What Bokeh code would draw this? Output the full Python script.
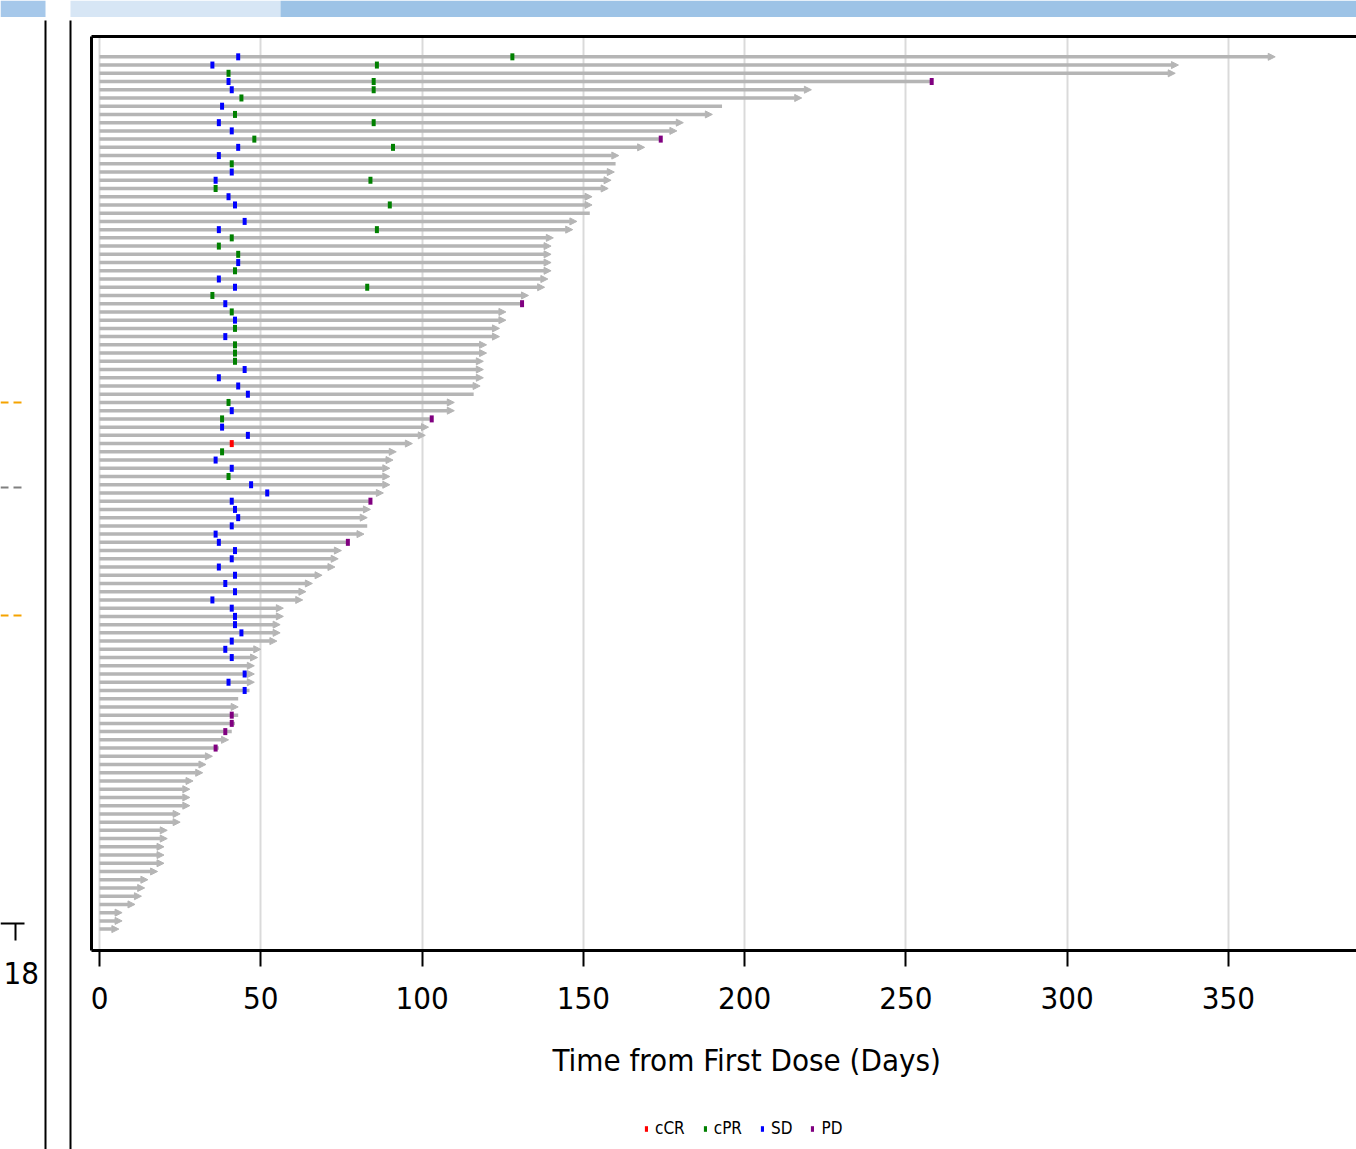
from bokeh.plotting import figure
from bokeh.layouts import column, row
from bokeh.models import (Range1d, LinearAxis, FixedTicker, ColumnDataSource, Arrow,
                          NormalHead, Legend, LegendItem, Title)
from bokeh.core.properties import value
from bokeh.embed import file_html
from bokeh.resources import INLINE

# ---------------- data ----------------
# duration on study (days) per subject, subject 1 = top row
end_day = [364.5, 334.5, 333.5, 258, 220.7, 217.7, 193, 190, 181, 179,
           174, 169, 161, 160, 159.6, 158.6, 157.7, 152.7, 152.7, 152,
           148, 146.7, 140.7, 140, 140, 140, 140, 139, 138, 133,
           131, 126, 126, 124, 124, 120, 120, 119, 119, 119,
           118, 116, 110, 110, 103, 102, 101, 97, 92, 91,
           90, 90, 90, 88, 84, 84, 83, 83, 82, 77,
           75, 74, 73, 69, 66, 64, 63, 57, 57, 56,
           56, 55, 50, 49, 48, 48, 48, 46.5, 43, 43,
           43, 42, 41, 40, 37, 35, 33, 32, 29, 28,
           28, 28, 25, 25, 21, 21, 20, 20, 20, 18,
           15, 14, 13, 11, 7, 7, 6]
# 1 = still on treatment (arrow), 0 = discontinued
ongoing = [1, 1, 1, 0, 1, 1, 0, 1, 1, 1,
           0, 1, 1, 0, 1, 1, 1, 1, 1, 0,
           1, 1, 1, 1, 1, 1, 1, 1, 1, 1,
           0, 1, 1, 1, 1, 1, 1, 1, 1, 1,
           1, 0, 1, 1, 0, 1, 1, 1, 1, 1,
           1, 1, 1, 1, 0, 1, 1, 0, 1, 0,
           1, 1, 1, 1, 1, 1, 1, 1, 1, 1,
           1, 1, 1, 1, 1, 1, 1, 0, 0, 1,
           0, 0, 0, 1, 0, 1, 1, 1, 1, 1,
           1, 1, 1, 1, 1, 1, 1, 1, 1, 1,
           1, 1, 1, 1, 1, 1, 1]

ccr_subject = [48]
ccr_day = [41]

cpr_subject = [1, 2, 3, 4, 5, 6, 8, 9, 11, 12, 14, 16, 17, 19, 22, 23, 24, 25,
               27, 29, 30, 32, 34, 36, 37, 38, 43, 45, 49, 52]
cpr_day = [128, 86, 40, 85, 85, 44, 42, 85, 48, 91, 41, 84, 36, 90, 86, 41, 37, 43,
           42, 83, 35, 41, 42, 42, 42, 42, 40, 38, 38, 40]

sd_subject = [1, 2, 4, 5, 7, 9, 10, 12, 13, 15, 16, 18, 19, 21, 22, 26, 28, 29,
              31, 33, 35, 39, 40, 41, 42, 44, 46, 47, 50, 51, 53, 54, 55, 56,
              57, 58, 59, 60, 61, 62, 63, 64, 65, 66, 67, 68, 69, 70, 71, 72,
              73, 74, 76, 77, 78]
sd_day = [43, 35, 40, 41, 38, 37, 41, 43, 37, 41, 36, 40, 42, 45, 37, 43, 37, 42,
          39, 42, 39, 45, 37, 43, 46, 41, 38, 46, 36, 41, 47, 52, 41, 42,
          43, 41, 36, 37, 42, 41, 37, 42, 39, 42, 35, 41, 42, 42, 44, 41,
          39, 41, 45, 40, 45]

pd_subject = [4, 11, 31, 45, 55, 60, 81, 82, 83, 85]
pd_day = [258, 174, 131, 103, 84, 77, 41, 41, 39, 36]

x_ticks = [0, 50, 100, 150, 200, 250, 300, 350]
x_title = "Time from First Dose (Days)"
legend_labels = ["cCR", "cPR", "SD", "PD"]
side_label = "18"   # partially visible neighbouring panel on the slide

# ---------------- styles ----------------
FONT = "DejaVu Sans Condensed"
BAR = "#b5b5b5"
COLORS = {"cCR": "#ff0000", "cPR": "#008000", "SD": "#0000ff", "PD": "#800080"}

n = len(end_day)
subjects = list(range(1, n + 1))


def bare(fig):
    fig.outline_line_color = None
    fig.xgrid.visible = False
    fig.ygrid.visible = False
    fig.background_fill_color = "white"
    fig.border_fill_color = "white"
    return fig


# ---------------- main swimmer plot ----------------
p = figure(width=1275, height=1092, output_backend="svg", toolbar_location=None,
           x_range=Range1d(-2.48, 389.7), y_range=Range1d(n + 2.6, -1.47),
           min_border_left=10, min_border_right=0, min_border_top=19,
           min_border_bottom=159)
p.outline_line_color = None
p.background_fill_color = "white"
p.border_fill_color = "white"

p.xgrid.ticker = FixedTicker(ticks=x_ticks)
p.xgrid.grid_line_color = "#dadada"
p.xgrid.grid_line_width = 2
p.ygrid.visible = False

xa = p.xaxis[0]
xa.ticker = FixedTicker(ticks=x_ticks)
xa.axis_line_width = 3
xa.axis_line_color = "black"
xa.major_tick_out = 16
xa.major_tick_in = 0
xa.major_tick_line_width = 2
xa.minor_tick_line_color = None
xa.major_label_text_font = FONT
xa.major_label_text_font_size = "31px"
xa.major_label_text_color = "black"
xa.major_label_standoff = 20

ya = p.yaxis[0]
ya.ticker = FixedTicker(ticks=[])
ya.axis_line_width = 3
ya.axis_line_color = "black"
ya.major_tick_line_color = None
ya.minor_tick_line_color = None

top = LinearAxis(ticker=FixedTicker(ticks=[]), axis_line_width=3, axis_line_color="black",
                 major_tick_line_color=None, minor_tick_line_color=None)
p.add_layout(top, "above")

bar_src_flat = ColumnDataSource(dict(
    y=[s for s, o in zip(subjects, ongoing) if not o],
    x0=[0] * (n - sum(ongoing)),
    x1=[e for e, o in zip(end_day, ongoing) if not o]))
p.segment(x0="x0", y0="y", x1="x1", y1="y", source=bar_src_flat,
          line_color=BAR, line_width=3.5)

bar_src_on = ColumnDataSource(dict(
    y=[s for s, o in zip(subjects, ongoing) if o],
    x0=[0] * sum(ongoing),
    x1=[e for e, o in zip(end_day, ongoing) if o]))
p.add_layout(Arrow(x_start="x0", y_start="y", x_end="x1", y_end="y", source=bar_src_on,
                   line_color=BAR, line_width=3.5, level="underlay",
                   end=NormalHead(size=7, fill_color=BAR, line_color=BAR, line_width=1)))

groups = [("cCR", ccr_subject, ccr_day), ("cPR", cpr_subject, cpr_day),
          ("SD", sd_subject, sd_day), ("PD", pd_subject, pd_day)]
sources = {}
for lab, subj, day in groups:
    sources[lab] = ColumnDataSource(dict(x=day, y=subj))
    p.rect(x="x", y="y", source=sources[lab], width=4, height=7, width_units="screen",
           height_units="screen", fill_color=COLORS[lab], line_color=None,
           level="overlay")

p.add_layout(Title(text=x_title, align="left", offset=461, text_font=FONT,
                   text_font_size="31px", text_font_style="normal",
                   text_color="black", standoff=56), "below")

# ---------------- legend strip (same response sources, out of view) ----------------
lf = bare(figure(width=1275, height=40, output_backend="svg", toolbar_location=None,
                 x_range=Range1d(-2, -1), y_range=Range1d(-2, -1),
                 min_border=0, x_axis_location=None, y_axis_location=None))
items = []
for lab, subj, day in groups:
    r = lf.rect(x="x", y="y", source=sources[lab], width=4, height=7, width_units="screen",
                height_units="screen", fill_color=COLORS[lab], line_color=None)
    items.append(LegendItem(label=lab, renderers=[r]))
lf.add_layout(Legend(items=items, orientation="horizontal", location=(553, 11),
                     border_line_color=None, background_fill_alpha=0,
                     glyph_width=4, glyph_height=7, label_standoff=7, spacing=18,
                     label_text_font=FONT, label_text_font_size="17px",
                     label_text_color="black", padding=2, margin=0))

# ---------------- slide remnants: header band and left neighbour ----------------
hf = bare(figure(width=1356, height=17, output_backend="svg", toolbar_location=None,
                 x_range=Range1d(0, 1356), y_range=Range1d(17, 0),
                 min_border=0, x_axis_location=None, y_axis_location=None))
hf.quad(left=[0, 70, 280], right=[45, 280, 1356], top=[0, 0, 0], bottom=[17, 17, 17],
        fill_color=["#a6c8ea", "#d7e6f5", "#9dc3e6"], line_color=None)

sf = bare(figure(width=81, height=1132, output_backend="svg", toolbar_location=None,
                 x_range=Range1d(0, 81), y_range=Range1d(1149, 17),
                 min_border=0, x_axis_location=None, y_axis_location=None))
sf.segment(x0=[45, 70], y0=[20, 20], x1=[45, 70], y1=[1149, 1149],
           line_color="black", line_width=2)
sf.segment(x0=[0, 0], y0=[402, 615], x1=[25, 25], y1=[402, 615],
           line_color="#f5a300", line_width=2, line_dash="8 5")
sf.segment(x0=[0], y0=[487], x1=[25], y1=[487],
           line_color="#808080", line_width=2, line_dash="8 5")
sf.segment(x0=[0, 15], y0=[923, 923], x1=[24, 15], y1=[923, 940],
           line_color="black", line_width=2)
sf.text(x=[3], y=[972], text=[side_label], text_font=value(FONT), text_font_size="31px",
        text_align="left", text_baseline="middle", text_color="black")

layout = column(hf, row(sf, column(p, lf)))

open("out.html", "w").write(file_html(layout, INLINE))
